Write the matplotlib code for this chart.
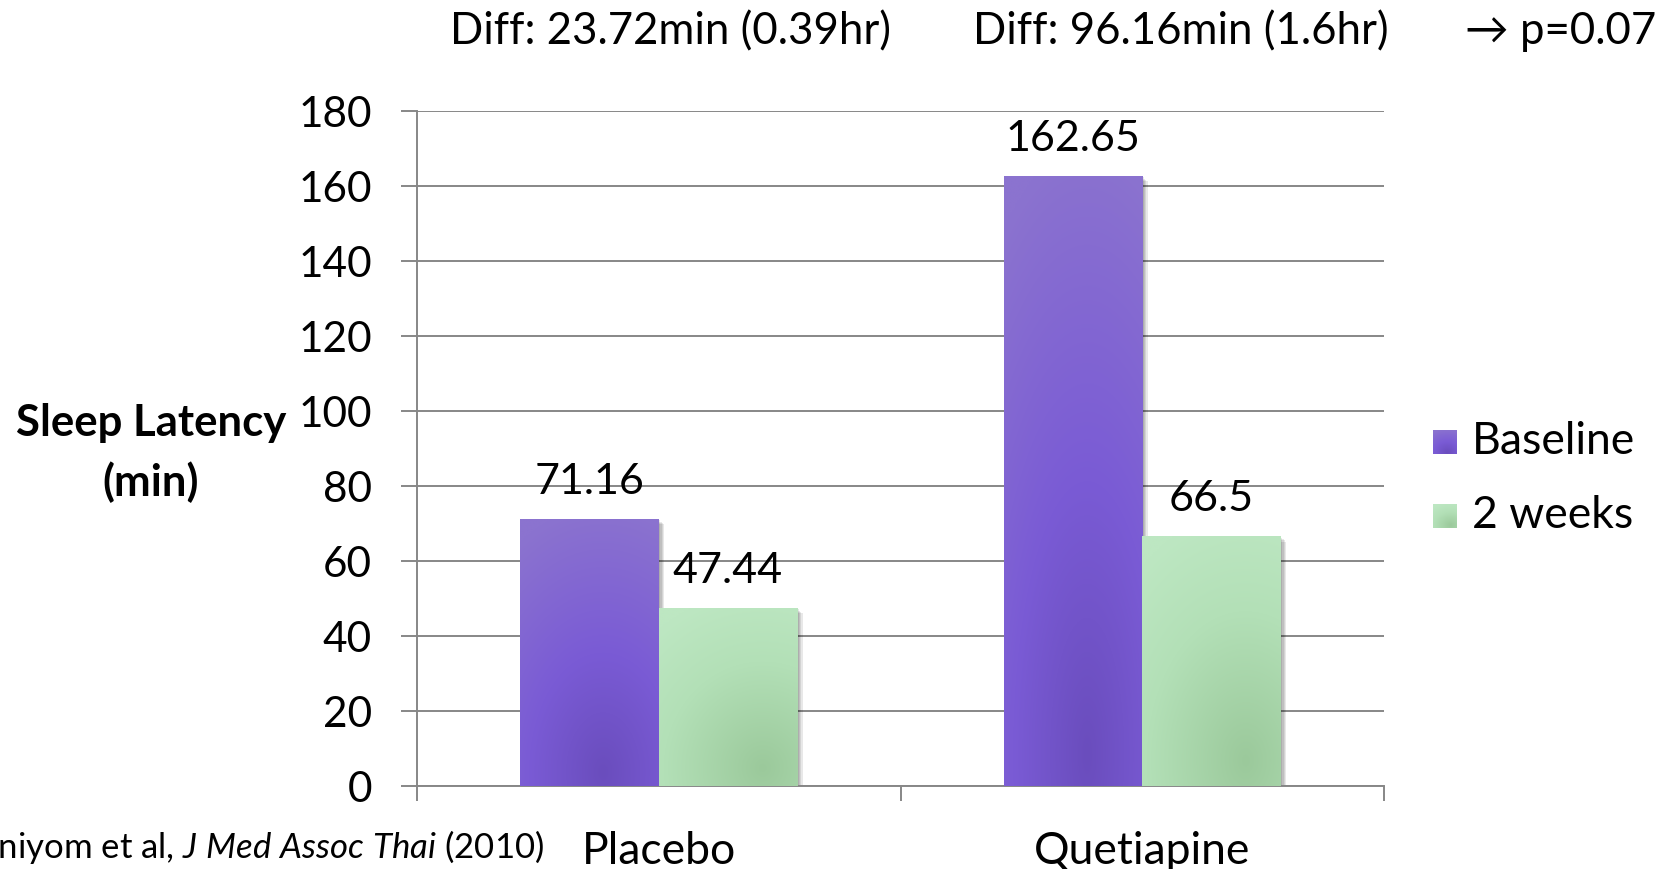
import numpy as np
import matplotlib
matplotlib.use("Agg")
import matplotlib.pyplot as plt
from matplotlib import patheffects as pe

# ---- data ----
categories = ["Placebo", "Quetiapine"]
series_names = ["Baseline", "2 weeks"]
baseline = [71.16, 162.65]
two_weeks = [47.44, 66.5]
y_ticks = [0, 20, 40, 60, 80, 100, 120, 140, 160, 180]
diff_notes = ["Diff: 23.72min (0.39hr)", "Diff: 96.16min (1.6hr)", "\u2192 p=0.07"]
y_label_lines = ["Sleep Latency", "(min)"]
citation = r"Tassniyom et al, $\mathit{J\ Med\ Assoc\ Thai}$ (2010)"

# ---- style ----
plt.rcParams["font.family"] = ["Lato", "DejaVu Sans"]
plt.rcParams["mathtext.fontset"] = "custom"
plt.rcParams["mathtext.rm"] = "Lato"
plt.rcParams["mathtext.it"] = "Lato:italic"

W, H = 1673, 870
GRID = "#878787"

# radial gradient stops: (distance, colour)
PURPLE_STOPS = [(0.0, "#6A4DBD"), (0.45, "#7A5BD5"), (1.0, "#8B73CF")]
GREEN_STOPS = [(0.0, "#9BC99B"), (0.6, "#B3E0B7"), (1.0, "#BDE7C2")]
PURPLE_CENTER = (0.6, 0.05)
GREEN_CENTER = (0.75, 0.1)


def hex_rgb(h):
    h = h.lstrip("#")
    return np.array([int(h[i:i + 2], 16) / 255 for i in (0, 2, 4)])


def gradient(stops, center, nx=80, ny=240):
    u = np.linspace(0, 1, nx)[None, :]
    v = np.linspace(0, 1, ny)[:, None]
    d = np.sqrt(((u - center[0]) / 1.2) ** 2 + (v - center[1]) ** 2)
    d = np.clip(d, 0, 1)
    pos = np.array([s[0] for s in stops])
    cols = np.array([hex_rgb(s[1]) for s in stops])
    img = np.zeros((ny, nx, 3))
    for c in range(3):
        img[..., c] = np.interp(d, pos, cols[:, c])
    return img


def px(x, y):
    return x / W, 1 - y / H


fig = plt.figure(figsize=(W / 100, H / 100), dpi=100)
ax = fig.add_axes([417 / W, 1 - 786.7 / H, (1384 - 417) / W, (786.7 - 111.7) / H])

x = np.arange(len(categories))
width = 0.2865
shadow = [pe.SimplePatchShadow(offset=(k, -k), shadow_rgbFace="black", alpha=0.09)
          for k in (1, 2, 3, 4)] + [pe.Normal()]

series = [(baseline, -width / 2, PURPLE_STOPS, PURPLE_CENTER, "#7759CF"),
          (two_weeks, width / 2, GREEN_STOPS, GREEN_CENTER, "#AEDCB2")]

for vals, off, stops, center, base_col in series:
    bars = ax.bar(x + off, vals, width, color=base_col, zorder=2, linewidth=0)
    img = gradient(stops, center)
    for b in bars:
        b.set_path_effects(shadow)
        x0, y0 = b.get_x(), b.get_y()
        im = ax.imshow(img, extent=(x0, x0 + b.get_width(), y0, y0 + b.get_height()),
                       origin="lower", aspect="auto", interpolation="bilinear", zorder=3)
        im.set_clip_path(b)
        ax.annotate(f"{b.get_height():g}", xy=(b.get_x() + b.get_width() / 2, b.get_height()),
                    xytext=(0, 27.5), textcoords="offset points", ha="center", va="center",
                    fontsize=31, zorder=5)

ax.set_xlim(-0.5, len(categories) - 0.5)
ax.set_ylim(0, 180)
ax.set_aspect("auto")

# axes, ticks, grid
ax.set_axisbelow(True)
ax.yaxis.grid(True, color=GRID, linewidth=1.4)
for s in ("top", "right"):
    ax.spines[s].set_visible(False)
for s in ("left", "bottom"):
    ax.spines[s].set_color(GRID)
    ax.spines[s].set_linewidth(1.4)

ax.set_yticks(y_ticks)
ax.tick_params(axis="y", length=11.5, width=1.4, color=GRID, pad=21, labelsize=30.5)
ax.set_xticks(np.arange(len(categories) + 1) - 0.5)
ax.set_xticklabels([])
ax.tick_params(axis="x", which="major", length=10.8, width=1.4, color=GRID)
ax.set_xticks(x, minor=True)
ax.set_xticklabels(categories, minor=True)
ax.tick_params(axis="x", which="minor", length=0, pad=32, labelsize=32)

# y-axis title
fig.text(*px(151, 423), y_label_lines[0], ha="center", va="center", fontsize=31.5, fontweight="bold")
fig.text(*px(151, 482), y_label_lines[1], ha="center", va="center", fontsize=31.5, fontweight="bold")

# notes along the top
for note, cx in zip(diff_notes, (671, 1181, 1561)):
    fig.text(*px(cx, 32), note, ha="center", va="center", fontsize=31.5)

# citation
fig.text(*px(544, 847), citation, ha="right", va="center", fontsize=25)

# legend with gradient swatches
for name, (_, _, stops, center, _), ytop, ytxt in zip(series_names, series, (431, 505), (442, 515)):
    sw = fig.add_axes([1433 / W, 1 - (ytop + 24) / H, 24 / W, 24 / H])
    sw.imshow(gradient(stops, center, 20, 20), origin="lower", aspect="auto",
              extent=(0, 1, 0, 1))
    sw.set_axis_off()
    fig.text(*px(1472, ytxt), name, ha="left", va="center", fontsize=32)

fig.savefig("out.png", dpi=100)
